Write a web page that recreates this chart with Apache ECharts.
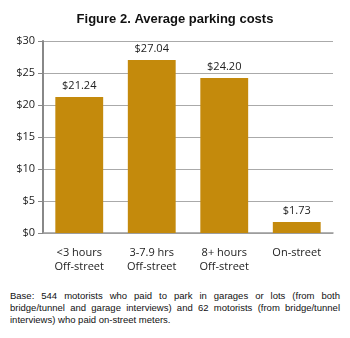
<!DOCTYPE html>
<html>
<head>
<meta charset="utf-8">
<script src="https://cdn.jsdelivr.net/npm/echarts@6/dist/echarts.min.js"></script>
<style>
  html, body { margin: 0; padding: 0; background: #fff; }
  #chart { position: absolute; left: 0; top: 0; width: 350px; height: 285px; }
  #note {
    position: absolute; left: 10px; top: 290px; width: 330px;
    font-family: "Liberation Sans", Arial, sans-serif; font-size: 9.5px;
    line-height: 12px; color: #111; text-align: justify; margin: 0;
  }
</style>
</head>
<body>
<div id="chart"></div>
<p id="note">Base: 544 motorists who paid to park in garages or lots (from both bridge/tunnel and garage interviews) and 62 motorists (from bridge/tunnel interviews) who paid on-street meters.</p>
<script>
// Average cost per parking type, in dollars
const categories = ['<3 hours\nOff-street', '3-7.9 hrs\nOff-street', '8+ hours\nOff-street', 'On-street'];
const avgCost = [21.24, 27.04, 24.20, 1.73];
const yTicks = { min: 0, max: 30, interval: 5 };

const chart = echarts.init(document.getElementById('chart'), null, { renderer: 'canvas' });
const labelFont = '"Open Sans", "DejaVu Sans", sans-serif';

chart.setOption({
  animation: false,
  title: {
    text: 'Figure 2. Average parking costs',
    left: 'center',
    top: 8,
    textStyle: { fontFamily: '"Liberation Sans", Arial, sans-serif', fontSize: 13, fontWeight: 'bold', color: '#111' }
  },
  grid: { left: 43, right: 17, top: 41, bottom: 52 },
  xAxis: {
    type: 'category',
    data: categories,
    axisLine: { lineStyle: { color: '#999', width: 1.5 } },
    axisTick: { show: false },
    axisLabel: { fontFamily: labelFont, fontSize: 11, color: '#222', lineHeight: 14, margin: 13 }
  },
  yAxis: {
    type: 'value',
    min: yTicks.min, max: yTicks.max, interval: yTicks.interval,
    axisLine: { show: true, lineStyle: { color: '#888', width: 2 } },
    axisTick: { show: true, length: 5, lineStyle: { color: '#888' } },
    splitLine: { lineStyle: { color: '#aaa', width: 1 } },
    axisLabel: { fontFamily: labelFont, fontSize: 11, color: '#222', margin: 8, formatter: v => '$' + v }
  },
  series: [{
    type: 'bar',
    data: avgCost,
    barWidth: '66%',
    itemStyle: { color: '#C48A0C' },
    label: {
      show: true, position: 'top', distance: 6,
      fontFamily: labelFont, fontSize: 11, color: '#222',
      formatter: p => '$' + p.value.toFixed(2)
    }
  }]
});
</script>
</body>
</html>
